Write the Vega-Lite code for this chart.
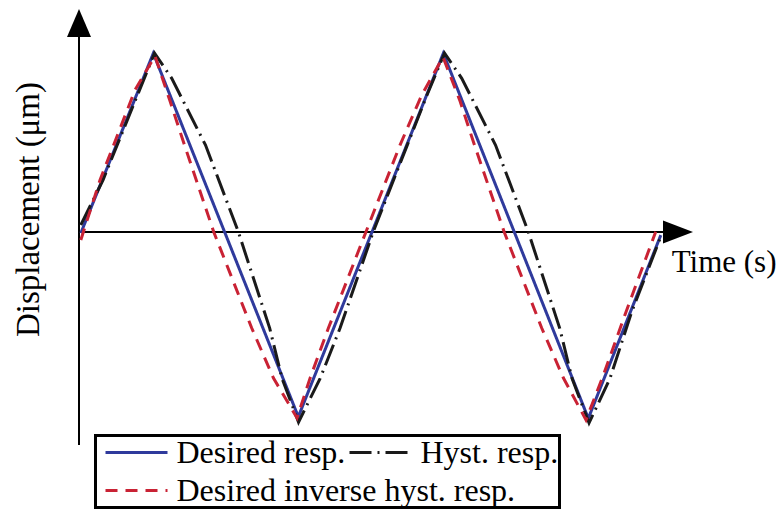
{
  "$schema": "https://vega.github.io/schema/vega-lite/v6.json",
  "width": 614,
  "height": 436,
  "autosize": {"type": "none"},
  "padding": {"left": 79, "top": 9, "right": 90, "bottom": 65},
  "background": "white",
  "config": {"view": {"stroke": null}, "legend": {"strokeWidth": 3, "gridAlign": "none"}},
  "layer": [
    {
      "data": {"values": [{}]},
      "mark": {"type": "rule", "color": "black", "strokeWidth": 2},
      "encoding": {
        "x": {"datum": -0.025, "type": "quantitative", "scale": {"domain": [-0.025, 8.444], "nice": false, "zero": false}, "axis": null},
        "x2": {"datum": 8.237},
        "y": {"datum": 0, "type": "quantitative", "scale": {"domain": [-1.183, 1.239], "nice": false, "zero": false}, "axis": null}
      }
    },
    {
      "data": {"values": [{}]},
      "mark": {"type": "rule", "color": "black", "strokeWidth": 2},
      "encoding": {
        "x": {"datum": -0.025, "type": "quantitative", "scale": {"domain": [-0.025, 8.444], "nice": false, "zero": false}, "axis": null},
        "y": {"datum": -1.183, "type": "quantitative", "scale": {"domain": [-1.183, 1.239], "nice": false, "zero": false}, "axis": null},
        "y2": {"datum": 1.161}
      }
    },
    {
      "data": {
        "values": [
          {"series": "Desired resp.", "t": 0, "y": -0.006},
          {"series": "Desired resp.", "t": 1, "y": 0.993},
          {"series": "Desired resp.", "t": 3, "y": -1.026},
          {"series": "Desired resp.", "t": 5, "y": 0.993},
          {"series": "Desired resp.", "t": 7, "y": -1.035},
          {"series": "Desired resp.", "t": 8, "y": -0.017},
          {"series": "Hyst. resp.", "t": 0, "y": 0.039},
          {"series": "Hyst. resp.", "t": 0.306, "y": 0.289},
          {"series": "Hyst. resp.", "t": 1.017, "y": 0.994},
          {"series": "Hyst. resp.", "t": 1.254, "y": 0.854},
          {"series": "Hyst. resp.", "t": 1.72, "y": 0.483},
          {"series": "Hyst. resp.", "t": 2.172, "y": 0.002},
          {"series": "Hyst. resp.", "t": 2.606, "y": -0.535},
          {"series": "Hyst. resp.", "t": 2.775, "y": -0.813},
          {"series": "Hyst. resp.", "t": 3.003, "y": -1.056},
          {"series": "Hyst. resp.", "t": 3.301, "y": -0.813},
          {"series": "Hyst. resp.", "t": 3.575, "y": -0.535},
          {"series": "Hyst. resp.", "t": 4.034, "y": 0.002},
          {"series": "Hyst. resp.", "t": 4.503, "y": 0.483},
          {"series": "Hyst. resp.", "t": 4.775, "y": 0.761},
          {"series": "Hyst. resp.", "t": 5.017, "y": 0.994},
          {"series": "Hyst. resp.", "t": 5.254, "y": 0.854},
          {"series": "Hyst. resp.", "t": 5.72, "y": 0.483},
          {"series": "Hyst. resp.", "t": 6.172, "y": 0.002},
          {"series": "Hyst. resp.", "t": 6.606, "y": -0.535},
          {"series": "Hyst. resp.", "t": 6.775, "y": -0.813},
          {"series": "Hyst. resp.", "t": 7.01, "y": -1.061},
          {"series": "Hyst. resp.", "t": 7.299, "y": -0.813},
          {"series": "Hyst. resp.", "t": 7.599, "y": -0.443},
          {"series": "Hyst. resp.", "t": 8.003, "y": -0.022},
          {"series": "Desired inverse hyst. resp.", "t": 0, "y": -0.044},
          {"series": "Desired inverse hyst. resp.", "t": 0.265, "y": 0.289},
          {"series": "Desired inverse hyst. resp.", "t": 0.748, "y": 0.789},
          {"series": "Desired inverse hyst. resp.", "t": 1.023, "y": 0.978},
          {"series": "Desired inverse hyst. resp.", "t": 1.226, "y": 0.733},
          {"series": "Desired inverse hyst. resp.", "t": 1.43, "y": 0.483},
          {"series": "Desired inverse hyst. resp.", "t": 1.834, "y": 0.0},
          {"series": "Desired inverse hyst. resp.", "t": 2.357, "y": -0.533},
          {"series": "Desired inverse hyst. resp.", "t": 2.657, "y": -0.811},
          {"series": "Desired inverse hyst. resp.", "t": 2.982, "y": -1.033},
          {"series": "Desired inverse hyst. resp.", "t": 3.161, "y": -0.813},
          {"series": "Desired inverse hyst. resp.", "t": 3.414, "y": -0.535},
          {"series": "Desired inverse hyst. resp.", "t": 3.934, "y": 0.002},
          {"series": "Desired inverse hyst. resp.", "t": 4.403, "y": 0.483},
          {"series": "Desired inverse hyst. resp.", "t": 4.702, "y": 0.761},
          {"series": "Desired inverse hyst. resp.", "t": 4.996, "y": 0.972},
          {"series": "Desired inverse hyst. resp.", "t": 5.226, "y": 0.733},
          {"series": "Desired inverse hyst. resp.", "t": 5.43, "y": 0.483},
          {"series": "Desired inverse hyst. resp.", "t": 5.84, "y": 0.0},
          {"series": "Desired inverse hyst. resp.", "t": 6.357, "y": -0.533},
          {"series": "Desired inverse hyst. resp.", "t": 6.657, "y": -0.811},
          {"series": "Desired inverse hyst. resp.", "t": 6.968, "y": -1.044},
          {"series": "Desired inverse hyst. resp.", "t": 7.203, "y": -0.8},
          {"series": "Desired inverse hyst. resp.", "t": 7.52, "y": -0.444},
          {"series": "Desired inverse hyst. resp.", "t": 7.93, "y": 0.002}
        ]
      },
      "mark": {"type": "line", "strokeWidth": 3, "strokeCap": "butt"},
      "encoding": {
        "x": {"field": "t", "type": "quantitative", "scale": {"domain": [-0.025, 8.444], "nice": false, "zero": false}, "axis": null},
        "y": {"field": "y", "type": "quantitative", "scale": {"domain": [-1.183, 1.239], "nice": false, "zero": false}, "axis": null},
        "color": {
          "field": "series", "type": "nominal",
          "scale": {"domain": ["Desired resp.", "Hyst. resp.", "Desired inverse hyst. resp."], "range": ["#2f3a9c", "#1a1a1a", "#c92234"]},
          "legend": {
            "title": null, "orient": "none", "legendX": 16.5, "legendY": 426.5,
            "direction": "horizontal", "columns": 2, "gridAlign": "none",
            "columnPadding": -175, "rowPadding": 6, "padding": 1,
            "symbolType": "M-3.1,0H3.1", "symbolSize": 400, "symbolStrokeWidth": 3, "symbolOffset": 24,
            "labelFont": "Liberation Serif", "labelFontSize": 32, "labelColor": "black",
            "labelLimit": 600, "labelOffset": 24, "strokeColor": "black", "fillColor": "white"
          }
        },
        "strokeDash": {
          "field": "series", "type": "nominal",
          "scale": {"domain": ["Desired resp.", "Hyst. resp.", "Desired inverse hyst. resp."], "range": [[1, 0], [22, 6, 2, 6], [12, 8]]},
          "legend": {
            "title": null, "orient": "none", "legendX": 16.5, "legendY": 426.5,
            "direction": "horizontal", "columns": 2, "gridAlign": "none",
            "columnPadding": -175, "rowPadding": 6, "padding": 1,
            "symbolType": "M-3.1,0H3.1", "symbolSize": 400, "symbolStrokeWidth": 3, "symbolOffset": 24,
            "labelFont": "Liberation Serif", "labelFontSize": 32, "labelColor": "black",
            "labelLimit": 600, "labelOffset": 24, "strokeColor": "black", "fillColor": "white"
          }
        }
      }
    },
    {
      "data": {"values": [{}]},
      "mark": {"type": "point", "shape": "M0,-1L0.857,1L-0.857,1Z", "filled": true, "color": "black", "opacity": 1, "size": 784},
      "encoding": {
        "x": {"datum": -0.025, "type": "quantitative", "scale": {"domain": [-0.025, 8.444], "nice": false, "zero": false}, "axis": null},
        "y": {"datum": 1.161, "type": "quantitative", "scale": {"domain": [-1.183, 1.239], "nice": false, "zero": false}, "axis": null}
      }
    },
    {
      "data": {"values": [{}]},
      "mark": {"type": "point", "shape": "M1,0L-1,-0.767L-1,0.767Z", "filled": true, "color": "black", "opacity": 1, "size": 900},
      "encoding": {
        "x": {"datum": 8.237, "type": "quantitative", "scale": {"domain": [-0.025, 8.444], "nice": false, "zero": false}, "axis": null},
        "y": {"datum": 0, "type": "quantitative", "scale": {"domain": [-1.183, 1.239], "nice": false, "zero": false}, "axis": null}
      }
    },
    {
      "data": {"values": [{}]},
      "mark": {"type": "text", "text": "Time (s)", "align": "left", "baseline": "alphabetic", "font": "Liberation Serif", "fontSize": 31, "color": "black"},
      "encoding": {
        "x": {"datum": 8.15, "type": "quantitative", "scale": {"domain": [-0.025, 8.444], "nice": false, "zero": false}, "axis": null},
        "y": {"datum": -0.222, "type": "quantitative", "scale": {"domain": [-1.183, 1.239], "nice": false, "zero": false}, "axis": null}
      }
    },
    {
      "data": {"values": [{}]},
      "mark": {"type": "text", "text": "Displacement (μm)", "align": "center", "baseline": "alphabetic", "angle": 270, "font": "Liberation Serif", "fontSize": 33, "color": "black"},
      "encoding": {
        "x": {"datum": -0.583, "type": "quantitative", "scale": {"domain": [-0.025, 8.444], "nice": false, "zero": false}, "axis": null},
        "y": {"datum": 0.125, "type": "quantitative", "scale": {"domain": [-1.183, 1.239], "nice": false, "zero": false}, "axis": null}
      }
    }
  ]
}
